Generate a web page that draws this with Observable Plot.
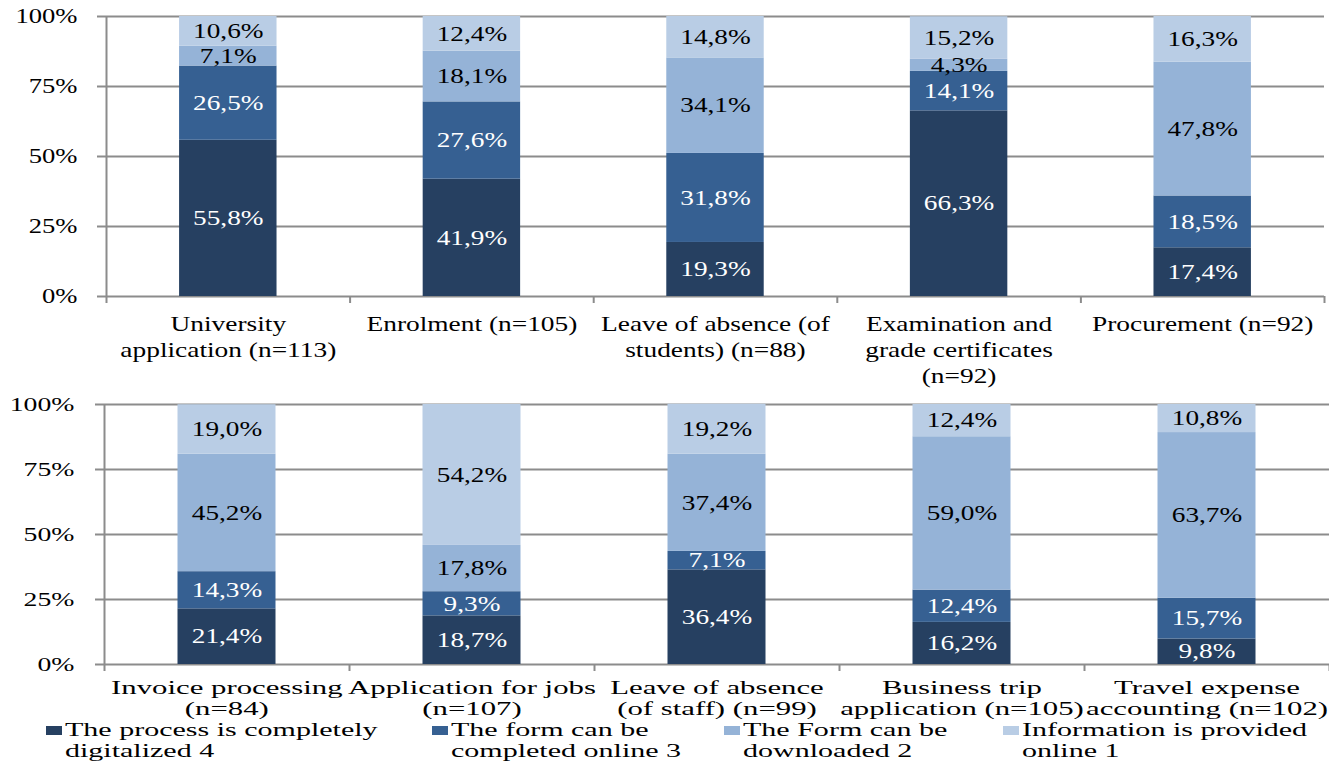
<!DOCTYPE html>
<html>
<head>
<meta charset="utf-8">
<script src="https://cdn.jsdelivr.net/npm/d3@7"></script>
<script src="https://cdn.jsdelivr.net/npm/@observablehq/plot@0.6"></script>
<style>
  html, body { margin: 0; padding: 0; background: white; }
  body { width: 1329px; height: 761px; position: relative; overflow: hidden; font-family: "Liberation Serif", serif; }
  #top { position: absolute; left: 0; top: 0; }
  #bottom { position: absolute; left: 0; top: 400px; }
  #top svg, #bottom svg { overflow: visible; }
  .lg-sw { position: absolute; width: 16px; height: 9px; }
  .lg-tx { position: absolute; font-size: 19px; line-height: 21px; color: black; white-space: nowrap; transform: scaleX(1.58); transform-origin: left top; }
</style>
</head>
<body>
<div id="top"></div>
<div id="bottom"></div>
<div id="legend"></div>
<script>
// ---- data ----
const levels = [
  "The process is completely digitalized 4",
  "The form can be completed online 3",
  "The Form can be downloaded 2",
  "Information is provided online 1"
];
const levelLines = [
  ["The process is completely", "digitalized 4"],
  ["The form can be", "completed online 3"],
  ["The Form can be", "downloaded 2"],
  ["Information is provided", "online 1"]
];
const levelColors = ["#264061", "#366092", "#95b3d7", "#b9cde5"];

const categoriesTop = [
  "University application (n=113)",
  "Enrolment (n=105)",
  "Leave of absence (of students) (n=88)",
  "Examination and grade certificates (n=92)",
  "Procurement (n=92)"
];
const labelsTop = [
  "University\napplication (n=113)",
  "Enrolment (n=105)",
  "Leave of absence (of\nstudents) (n=88)",
  "Examination and\ngrade certificates\n(n=92)",
  "Procurement (n=92)"
];
const level4Top = [55.8, 41.9, 19.3, 66.3, 17.4];
const level3Top = [26.5, 27.6, 31.8, 14.1, 18.5];
const level2Top = [7.1, 18.1, 34.1, 4.3, 47.8];
const level1Top = [10.6, 12.4, 14.8, 15.2, 16.3];

const categoriesBottom = [
  "Invoice processing (n=84)",
  "Application for jobs (n=107)",
  "Leave of absence (of staff) (n=99)",
  "Business trip application (n=105)",
  "Travel expense accounting (n=102)"
];
const labelsBottom = [
  "Invoice processing\n(n=84)",
  "Application for jobs\n(n=107)",
  "Leave of absence\n(of staff) (n=99)",
  "Business trip\napplication (n=105)",
  "Travel expense\naccounting (n=102)"
];
const level4Bottom = [21.4, 18.7, 36.4, 16.2, 9.8];
const level3Bottom = [14.3, 9.3, 7.1, 12.4, 15.7];
const level2Bottom = [45.2, 17.8, 37.4, 59.0, 63.7];
const level1Bottom = [19.0, 54.2, 19.2, 12.4, 10.8];

const yTicks = [0, 25, 50, 75, 100];

// ---- helpers ----
const fmt = v => v.toFixed(1).replace(".", ",") + "%";
const isDark = l => l === levels[0] || l === levels[1];

// horizontally stretch texts of a mark around their anchor point (after the svg is in the DOM)
function stretch(svg, tag, s, anchor) {
  svg.querySelectorAll(`g[aria-description="${tag}"] text`).forEach(t => {
    if (!t.textContent) return;
    const b = t.getBBox();
    const cx = anchor === "end" ? b.x + b.width : b.x + b.width / 2;
    const tr = t.getAttribute("transform") || "";
    t.setAttribute("transform", `${tr} translate(${cx},0) scale(${s},1) translate(${-cx},0)`);
  });
}

function makeChart(o) {
  const rows = o.cats.flatMap((c, i) => levels.map((l, j) => ({cat: c, level: l, value: o.series[j][i]})));
  const W = 1329;
  const step = (W - o.ml - o.mr) / 5;
  const grey = "#8c8c8c";
  return Plot.plot({
    width: W,
    height: o.height,
    marginLeft: o.ml,
    marginRight: o.mr,
    marginTop: o.mt,
    marginBottom: o.mb,
    style: {fontFamily: "Liberation Serif", fontSize: o.yFont + "px", color: "black", background: "white", overflow: "visible"},
    x: {type: "band", domain: o.cats, paddingInner: 0.6, paddingOuter: 0.3, round: false, axis: null},
    y: {domain: [0, 100], axis: null},
    color: {domain: levels, range: levelColors},
    marks: [
      Plot.ruleY(yTicks, {y: d => d, stroke: grey, strokeWidth: 2, insetLeft: -9}),
      Plot.barY(rows, {x: "cat", y: "value", fill: "level"}),
      Plot.text(rows, Plot.stackY({x: "cat", y: "value", z: "level",
        text: d => isDark(d.level) ? fmt(d.value) : "", fill: "white", fontSize: 21, ariaDescription: "bar-label"})),
      Plot.text(rows, Plot.stackY({x: "cat", y: "value", z: "level",
        text: d => isDark(d.level) ? "" : fmt(d.value), fill: "black", fontSize: 21, ariaDescription: "bar-label"})),
      Plot.ruleX([o.cats[0]], {x: d => d, dx: -step / 2, y1: () => 100, y2: () => 0, insetBottom: -7, stroke: grey, strokeWidth: 2}),
      Plot.ruleX(o.cats, {x: d => d, dx: step / 2, y1: () => 0, y2: () => 0, insetBottom: -7, stroke: grey, strokeWidth: 2}),
      Plot.text(yTicks, {y: d => d, text: d => d + "%", frameAnchor: "left", textAnchor: "end", dx: -o.yPad,
        fontSize: o.yFont, fill: "black", ariaDescription: "y-label"}),
      Plot.text(o.cats, {x: d => d, text: (d, i) => o.labels[i], frameAnchor: "bottom", lineAnchor: "top",
        dy: o.catDy, fontSize: o.catFont, lineHeight: o.catLH, fill: "black", ariaDescription: "cat-label"})
    ]
  });
}

const topCfg = {
  cats: categoriesTop, labels: labelsTop,
  series: [level4Top, level3Top, level2Top, level1Top],
  ml: 106, mr: 5, mt: 16, mb: 104, height: 400,
  yFont: 20, yScale: 1.33, yPad: 29,
  catFont: 20, catScale: 1.37, catLH: 1.3, catDy: 16
};
const bottomCfg = {
  cats: categoriesBottom, labels: labelsBottom,
  series: [level4Bottom, level3Bottom, level2Bottom, level1Bottom],
  ml: 104, mr: 0, mt: 4, mb: 56, height: 320,
  yFont: 19, yScale: 1.46, yPad: 30,
  catFont: 19, catScale: 1.62, catLH: 1.1, catDy: 14.5
};

[["top", topCfg], ["bottom", bottomCfg]].forEach(([id, cfg]) => {
  const svg = makeChart(cfg);
  document.getElementById(id).appendChild(svg);
  stretch(svg, "bar-label", 1.3, "middle");
  stretch(svg, "cat-label", cfg.catScale, "middle");
  stretch(svg, "y-label", cfg.yScale, "end");
});

// ---- legend ----
const legendX = [46, 432, 724, 1003];
const legend = document.getElementById("legend");
levels.forEach((l, i) => {
  const sw = document.createElement("div");
  sw.className = "lg-sw";
  sw.style.left = legendX[i] + "px";
  sw.style.top = "726px";
  sw.style.background = levelColors[i];
  legend.appendChild(sw);
  const tx = document.createElement("div");
  tx.className = "lg-tx";
  tx.style.left = (legendX[i] + 19) + "px";
  tx.style.top = "719px";
  tx.innerHTML = levelLines[i].join("<br>");
  legend.appendChild(tx);
});
</script>
</body>
</html>
